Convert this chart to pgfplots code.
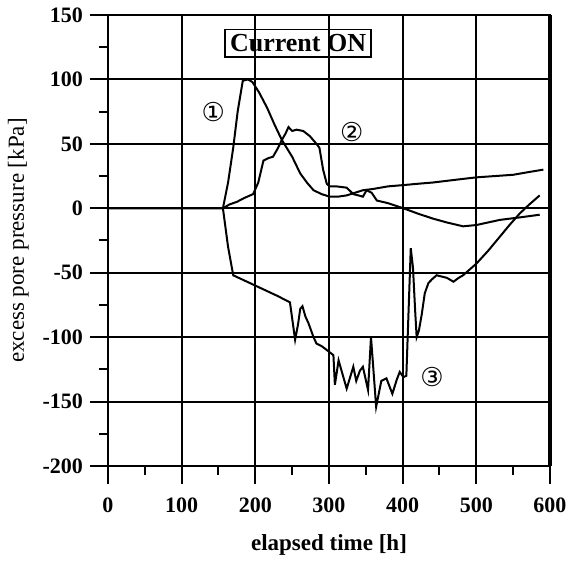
\documentclass[border=0pt]{standalone}
\usepackage{fontspec}
\setmainfont{Liberation Serif}
\newfontfamily\sym{DejaVu Sans}
\usepackage{pgfplots}
\pgfplotsset{compat=1.18}
\begin{document}
\begin{tikzpicture}
\begin{axis}[name=ax,
  scale only axis, width=221pt, height=225.5pt,
  xmin=0, xmax=600, ymin=-200, ymax=150,
  xtick={0,100,...,600}, ytick={-200,-150,...,150},
  minor xtick={50,150,...,550}, minor ytick={-175,-125,...,125},
  tick pos=left,
  grid=major, major grid style={black, line width=1pt},
  axis line style={line width=1.4pt},
  tick align=outside, major tick length=9pt, minor tick length=4.5pt,
  tick style={black, line width=1pt},
  /pgf/number format/assume math mode=true,
  ticklabel style={font=\fontsize{11}{13}\selectfont\bfseries},
  xticklabel style={yshift=-3.5pt},
  xlabel={\textbf{elapsed time [h]}},
  ylabel={excess pore pressure [kPa]},
  xlabel style={yshift=-4pt},
  label style={font=\fontsize{11.5}{13}\selectfont},
  clip=false,
]
\addplot[black, line width=1pt] coordinates {
(0,0) (156,0) (163,20) (170,47) (176,75) (183,99) (190,100) (196,98) (205,90) (216,78) (226,65) (236,53) (250,40) (261,27) (270,20) (279,14) (290,11) (301,9) (312,9) (324,10) (335,12) (346,14) (360,15) (380,17) (401,18) (420,19) (441,20) (470,22) (500,24) (525,25) (550,26) (570,28) (591,30)
};
\addplot[black, line width=1pt] coordinates {
(156,0) (165,3) (175,5) (185,8) (197,11) (204,20) (211,37) (218,39) (224,40) (230,46) (236,53) (241,58) (245,63) (250,60) (256,61) (265,60) (274,56) (283,50) (287,47) (292,30) (297,19) (301,17) (310,17) (324,16) (333,11) (340,10) (346,9) (351,14) (358,12) (365,6) (380,4) (401,0) (420,-4) (441,-8) (460,-11) (482,-14) (500,-13) (532,-9) (560,-7) (586,-5)
};
\addplot[black, line width=1pt] coordinates {
(156,0) (163,-30) (170,-52) (200,-60) (230,-68) (247,-73) (254,-102) (258,-90) (261,-78) (264,-76) (268,-84) (272,-89) (279,-100) (283,-105) (290,-107) (297,-110) (306,-114) (308,-137) (313,-118) (318,-128) (324,-140) (333,-123) (337,-134) (342,-126) (346,-123) (353,-141) (357,-100) (360,-123) (364,-154) (371,-134) (378,-132) (386,-144) (392,-133) (396,-127) (401,-131) (405,-130) (408,-80) (411,-31) (414,-46) (417,-80) (419,-100) (422,-95) (426,-82) (430,-66) (435,-58) (440,-55) (446,-52) (453,-53) (460,-54) (469,-57) (476,-54) (482,-52) (490,-48) (500,-43) (516,-33) (532,-22) (545,-13) (559,-4) (572,3) (586,10)
};
\draw[black, line width=1.8pt] (rel axis cs:1,0) -- (rel axis cs:1,1);
\node[draw, line width=0.8pt, inner sep=2.5pt, font=\fontsize{13}{15}\selectfont\bfseries] at (axis cs:258,128) {Current ON};
\node[font=\sym\fontsize{13}{15}\selectfont] at (axis cs:143,75) {①};
\node[font=\sym\fontsize{13}{15}\selectfont] at (axis cs:331,59) {②};
\node[font=\sym\fontsize{13}{15}\selectfont] at (axis cs:440,-131) {③};
\end{axis}
\path (ax.south west) ++(-54pt,-46.5pt) coordinate (bl);
\path (ax.north east) ++(14.5pt,7.5pt) coordinate (tr);
\path[use as bounding box] (bl) rectangle (tr);
\end{tikzpicture}
\end{document}
